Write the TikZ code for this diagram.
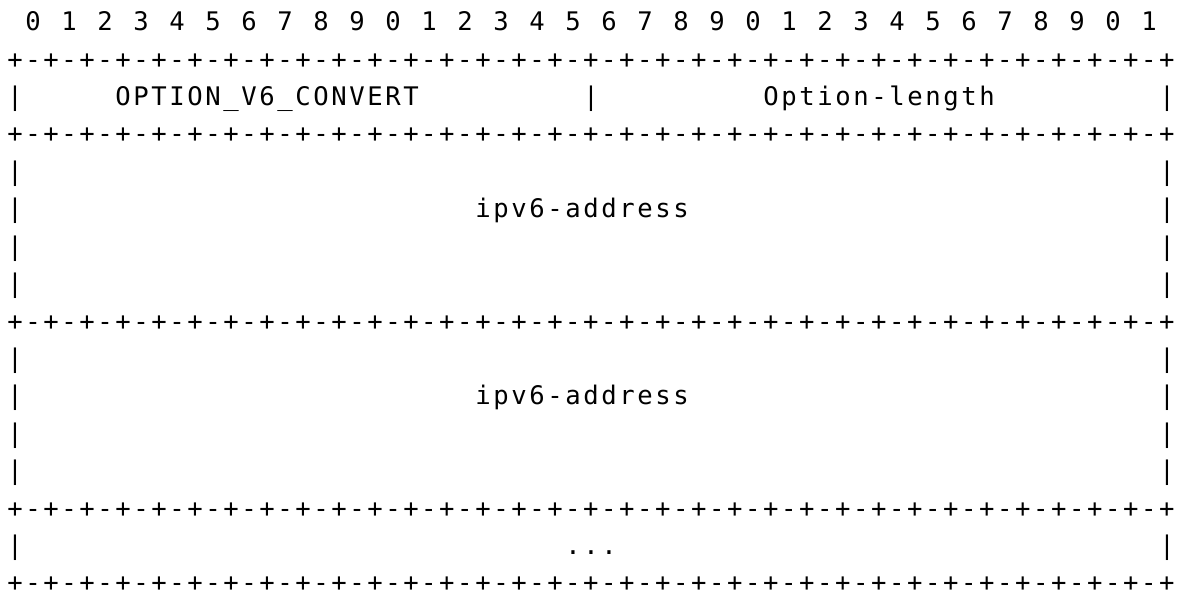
\documentclass[tikz,border=0pt]{standalone}
\usepackage{fontspec}
\setmonofont{DejaVu Sans Mono}
\newlength\cw
\setlength\cw{9pt}
\makeatletter
\def\grid@end{}
\def\gridtext#1{\grid@loop#1\grid@end}
\def\grid@loop#1{\ifx#1\grid@end\else\makebox[\cw]{#1}\expandafter\grid@loop\fi}
\makeatother
\newcommand\borderrow{\foreach \k in {1,...,32}{\makebox[\cw]{+}\makebox[\cw]{-}}\makebox[\cw]{+}}
\begin{document}
\begin{tikzpicture}[x=0.5pt,y=-0.5pt,
  txt/.style={anchor=base west,inner sep=0pt,outer sep=0pt,font=\ttfamily\fontsize{12.8}{15}\selectfont}]
\useasboundingbox (0,0) rectangle (1182,593);
\def\lineY#1{(30.8+(#1-1)*37.4)}
% bit numbers
\foreach \j in {0,...,31}{
  \pgfmathtruncatemacro\d{mod(\j,10)}
  \node[txt] (d\j) at ({6+(2*\j+1)*18},30.8) {\makebox[\cw]{\d}};
}
% border rows
\foreach \k/\n in {2/b1,4/b2,9/b3,14/b4,16/b5}{
  \node[txt] (\n) at (6,{30.8+(\k-1)*37.4}) {\borderrow};
}
% side bars
\foreach \k in {3,5,6,7,8,10,11,12,13,15}{
  \node[txt] (pl\k) at (6,{30.8+(\k-1)*37.4}) {\makebox[\cw]{|}};
  \node[txt] (pr\k) at ({6+64*18},{30.8+(\k-1)*37.4}) {\makebox[\cw]{|}};
}
\node[txt] (pm) at ({6+32*18},{30.8+2*37.4}) {\makebox[\cw]{|}};
% field labels
\node[txt] (opt) at ({6+6*18},{30.8+2*37.4}) {\gridtext{OPTION\_V6\_CONVERT}};
\node[txt] (len) at ({6+42*18},{30.8+2*37.4}) {\gridtext{Option-length}};
\node[txt] (addr1) at ({6+26*18},{30.8+5*37.4}) {\gridtext{ipv6-address}};
\node[txt] (addr2) at ({6+26*18},{30.8+10*37.4}) {\gridtext{ipv6-address}};
\node[txt] (dots) at ({6+31*18},{30.8+14*37.4}) {\gridtext{...}};
\end{tikzpicture}
\end{document}
